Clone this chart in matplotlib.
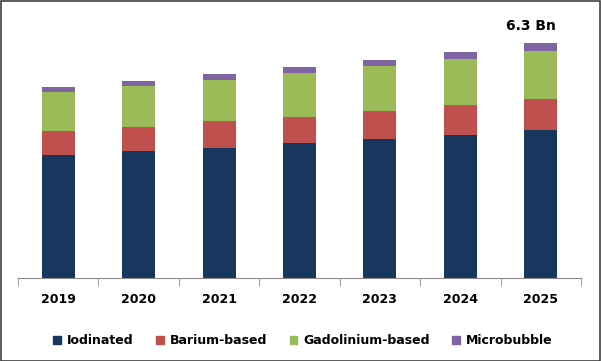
import matplotlib
matplotlib.use("Agg")
import matplotlib.pyplot as plt
from matplotlib.patches import Rectangle
import numpy as np

years = ["2019", "2020", "2021", "2022", "2023", "2024", "2025"]
iodinated = [3.30, 3.40, 3.49, 3.61, 3.72, 3.83, 3.96]
barium = [0.62, 0.64, 0.70, 0.71, 0.75, 0.80, 0.84]
gadolinium = [1.06, 1.10, 1.12, 1.17, 1.20, 1.23, 1.29]
microbubble = [0.14, 0.13, 0.16, 0.16, 0.17, 0.19, 0.21]
series_names = ["Iodinated", "Barium-based", "Gadolinium-based", "Microbubble"]
colors = ["#17375E", "#C0504D", "#9BBB59", "#8064A2"]

W, H = 601, 361
fig = plt.figure(figsize=(W / 100, H / 100), dpi=100)
ax = fig.add_axes([18 / W, 1 - 277.7 / H, (581 - 18) / W, (277.7 - 10) / H])

x = np.arange(len(years))
bottom = np.zeros(len(years))
for vals, col in zip([iodinated, barium, gadolinium, microbubble], colors):
    ax.bar(x, vals, width=0.41, bottom=bottom, color=col, linewidth=0)
    bottom += np.array(vals)

ax.set_xlim(-0.5, len(years) - 0.5)
ax.set_ylim(0, (277.7 - 10) / 37.3)

ax.text(x[-1] - 0.12, bottom[-1] + 0.45, "6.3 Bn", ha="center", va="center",
        fontsize=10, fontweight="bold", color="black")

for s in ["top", "left", "right"]:
    ax.spines[s].set_visible(False)
ax.spines["bottom"].set_color("#8C8C8C")
ax.set_yticks([])
ax.set_xticks(x)
ax.set_xticklabels(years, fontsize=9, fontweight="bold")
ax.tick_params(axis="x", length=0, pad=11)
ax.set_xticks(np.arange(-0.5, len(years)), minor=True)
ax.tick_params(axis="x", which="minor", length=6, color="#8C8C8C", direction="out")

handles = [Rectangle((0, 0), 1, 1, color=c) for c in colors]
fig.legend(handles, series_names, loc="center", bbox_to_anchor=(303 / W, 1 - 341 / H),
           ncol=4, frameon=False, prop={"size": 9, "weight": "bold"},
           handlelength=0.6, handleheight=0.6, handletextpad=0.5, columnspacing=1.8)

fig.patches.append(Rectangle((0.5 / W, 0.5 / H), 1 - 1.5 / W, 1 - 1.5 / H, transform=fig.transFigure,
                             fill=False, edgecolor="#404040", linewidth=1.2))

fig.savefig("out.png", dpi=100)
